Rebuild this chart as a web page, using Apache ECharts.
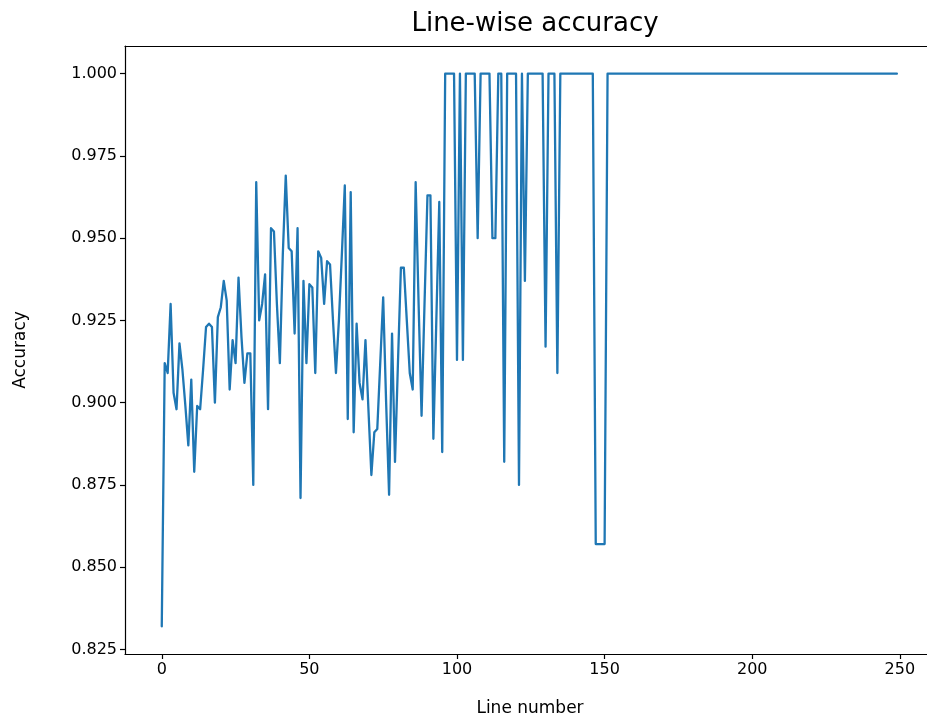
<!DOCTYPE html>
<html>
<head>
<meta charset="utf-8">
<script src="https://cdn.jsdelivr.net/npm/echarts@6/dist/echarts.min.js"></script>
<style>html,body{margin:0;padding:0;background:#fff;}#chart{width:927px;height:722px;}</style>
</head>
<body>
<div id="chart"></div>
<script>
// Line-wise accuracy values for line numbers 0..249
var accuracyStart = [
  0.832, 0.912, 0.909, 0.930, 0.903, 0.898, 0.918, 0.910, 0.899, 0.887,
  0.907, 0.879, 0.899, 0.898, 0.910, 0.923, 0.924, 0.923, 0.900, 0.926,
  0.929, 0.937, 0.931, 0.904, 0.919, 0.912, 0.938, 0.920, 0.906, 0.915,
  0.915, 0.875, 0.967, 0.925, 0.930, 0.939, 0.898, 0.953, 0.952, 0.930,
  0.912, 0.945, 0.969, 0.947, 0.946, 0.921, 0.953, 0.871, 0.937, 0.912,
  0.936, 0.935, 0.909, 0.946, 0.944, 0.930, 0.943, 0.942, 0.925, 0.909,
  0.925, 0.945, 0.966, 0.895, 0.964, 0.891, 0.924, 0.906, 0.901, 0.919,
  0.898, 0.878, 0.891, 0.892, 0.912, 0.932, 0.900, 0.872, 0.921, 0.882,
  0.912, 0.941, 0.941, 0.925, 0.909, 0.904, 0.967, 0.930, 0.896, 0.930,
  0.963, 0.963, 0.889, 0.925, 0.961, 0.885
];
var accuracyMiddle = [
  1.000, 1.000, 1.000, 1.000, 0.913, 1.000, 0.913, 1.000, 1.000, 1.000,
  1.000, 0.950, 1.000, 1.000, 1.000, 1.000, 0.950, 0.950, 1.000, 1.000,
  0.882, 1.000, 1.000, 1.000, 1.000, 0.875, 1.000, 0.937, 1.000, 1.000,
  1.000, 1.000, 1.000, 1.000, 0.917, 1.000, 1.000, 1.000, 0.909, 1.000,
  1.000, 1.000, 1.000, 1.000, 1.000, 1.000, 1.000, 1.000, 1.000, 1.000,
  1.000, 0.857, 0.857, 0.857, 0.857
];
var accuracyTailValue = 1.000;
var accuracyTailCount = 99;
var xTicks = [0, 50, 100, 150, 200, 250];
var yTicks = [0.825, 0.850, 0.875, 0.900, 0.925, 0.950, 0.975, 1.000];
var xVisibleMax = 259.2; // the reference picture is cropped at the right edge

var accuracy = accuracyStart.concat(accuracyMiddle);
for (var k = 0; k < accuracyTailCount; k++) accuracy.push(accuracyTailValue);
var seriesData = accuracy.map(function (v, i) { return [i, v]; });

var n = accuracy.length;
var xPad = (n - 1) * 0.05;
var yMinV = Math.min.apply(null, accuracy), yMaxV = Math.max.apply(null, accuracy);
var yPad = (yMaxV - yMinV) * 0.05;

var chart = echarts.init(document.getElementById('chart'), null, {renderer: 'canvas'});
var font = 'DejaVu Sans';
var axisLineStyle = {color: '#000', width: 1.2};
chart.setOption({
  animation: false,
  backgroundColor: '#ffffff',
  title: {
    text: 'Line-wise accuracy',
    left: 530, top: 6, textAlign: 'center',
    textStyle: {fontFamily: font, fontSize: 26, fontWeight: 'normal', color: '#000'}
  },
  grid: {left: 125, right: 0, top: 46, bottom: 67, show: false, containLabel: false},
  xAxis: [{
    type: 'value',
    min: -xPad, max: xVisibleMax,
    name: 'Line number', nameLocation: 'middle', nameGap: 46,
    nameTextStyle: {fontFamily: font, fontSize: 17, color: '#000', padding: [0, 0, 0, 8]},
    splitLine: {show: false},
    axisLine: {show: true, onZero: false, lineStyle: axisLineStyle},
    axisTick: {show: true, length: 5, customValues: xTicks, lineStyle: axisLineStyle},
    axisLabel: {customValues: xTicks, fontFamily: font, fontSize: 16, color: '#000', margin: 8,
      formatter: function (v) { return String(Math.round(v)); }}
  }, {
    type: 'value', position: 'top',
    min: -xPad, max: xVisibleMax,
    splitLine: {show: false},
    axisLine: {show: true, onZero: false, lineStyle: axisLineStyle},
    axisTick: {show: false}, axisLabel: {show: false}
  }],
  yAxis: {
    type: 'value',
    min: yMinV - yPad, max: yMaxV + yPad,
    name: 'Accuracy', nameLocation: 'middle', nameGap: 96, nameRotate: 90,
    nameTextStyle: {fontFamily: font, fontSize: 17, color: '#000'},
    splitLine: {show: false},
    axisLine: {show: true, onZero: false, lineStyle: axisLineStyle},
    axisTick: {show: true, length: 5, customValues: yTicks, lineStyle: axisLineStyle},
    axisLabel: {customValues: yTicks, fontFamily: font, fontSize: 16, color: '#000', margin: 8,
      formatter: function (v) { return v.toFixed(3); }}
  },
  series: [{
    type: 'line',
    xAxisIndex: 0,
    data: seriesData,
    showSymbol: false,
    symbol: 'none',
    lineStyle: {color: '#1f77b4', width: 2.3, join: 'round', cap: 'round'},
    clip: true
  }]
});
</script>
</body>
</html>
